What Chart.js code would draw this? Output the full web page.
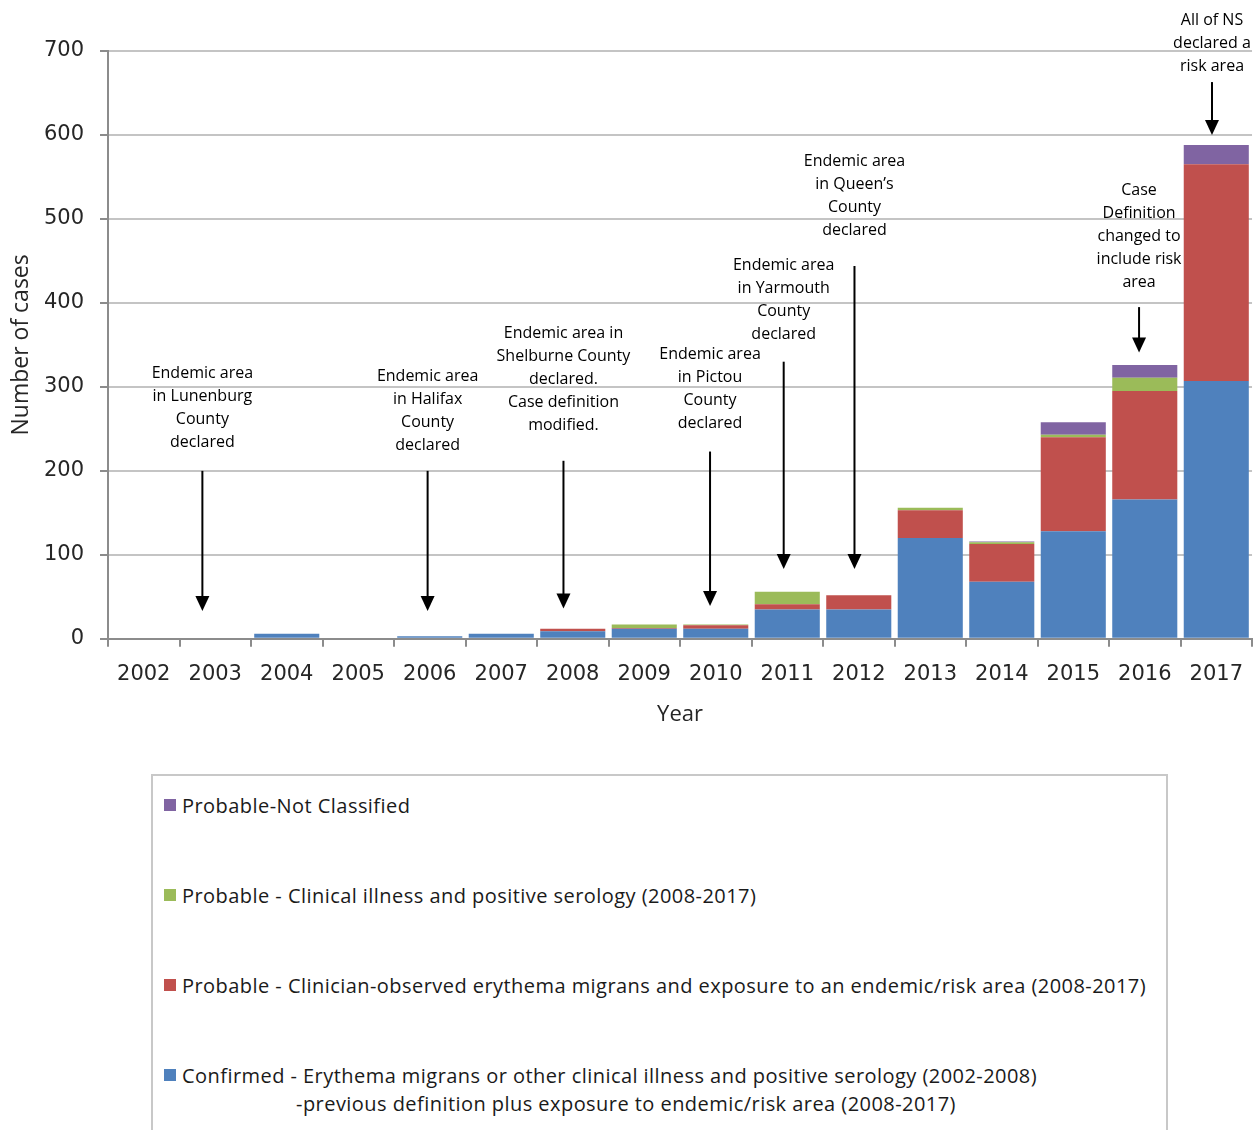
<!DOCTYPE html>
<html>
<head>
<meta charset="utf-8">
<script src="https://cdn.jsdelivr.net/npm/chart.js@4.4.1/dist/chart.umd.min.js"></script>
<style>
  body { margin: 0; background: #fff; }
  #wrap { position: relative; width: 1254px; height: 1130px; overflow: hidden; }
  #chart { position: absolute; left: 0; top: 0; }
  #legend {
    position: absolute; left: 151px; top: 774px; width: 1013px; height: 400px;
    border: 2px solid #c8c8c8; font-family: "Open Sans", sans-serif; font-size: 20px;
    letter-spacing: 0.45px; color: #1a1a1a;
  }
  .item { position: absolute; left: 11px; }
  .item .row { display: flex; align-items: center; height: 28px; white-space: nowrap; }
  .item .box { width: 12px; height: 12px; margin-right: 6px; flex: none; }
  .item .cont { padding-left: 132px; }
</style>
</head>
<body>
<div id="wrap">
  <canvas id="chart" width="1258" height="755"></canvas>
  <div id="legend"></div>
</div>
<script>
const years = ['2002', '2003', '2004', '2005', '2006', '2007', '2008', '2009', '2010', '2011', '2012', '2013', '2014', '2015', '2016', '2017'];
const confirmed = [0, 0, 6, 0, 3, 6, 9, 12, 12, 35, 35, 120, 68, 128, 166, 307];
const clinicianEM = [0, 0, 0, 0, 0, 0, 3, 1, 4, 6, 17, 33, 45, 112, 129, 258];
const serology = [0, 0, 0, 0, 0, 0, 0, 4, 1, 15, 0, 3, 2, 3, 16, 0];
const notClassified = [0, 0, 0, 0, 0, 0, 0, 0, 0, 0, 0, 0, 1, 15, 15, 23];

const seriesLabels = [
  'Confirmed - Erythema migrans or other clinical illness and positive serology (2002-2008)\n-previous definition plus exposure to endemic/risk area (2008-2017)',
  'Probable - Clinician-observed erythema migrans and exposure to an endemic/risk area (2008-2017)',
  'Probable - Clinical illness and positive serology (2008-2017)',
  'Probable-Not Classified'
];
const seriesColors = ['#4F81BD', '#C0504D', '#9BBB59', '#8064A2'];

// notes: at = category index (fractional), textY = value at first line, arrow from/to in values
const notes = [
  { at: 0.82, lines: ['Endemic area', 'in Lunenburg', 'County', 'declared'], textY: 316, from: 200, to: 33 },
  { at: 3.97, lines: ['Endemic area', 'in Halifax', 'County', 'declared'], textY: 312, from: 200, to: 33 },
  { at: 5.87, lines: ['Endemic area in', 'Shelburne County', 'declared.', 'Case definition', 'modified.'], textY: 364, from: 212, to: 36 },
  { at: 7.92, lines: ['Endemic area', 'in Pictou', 'County', 'declared'], textY: 339, from: 223, to: 39 },
  { at: 8.95, lines: ['Endemic area', 'in Yarmouth', 'County', 'declared'], textY: 445, from: 330, to: 83 },
  { at: 9.94, lines: ['Endemic area', 'in Queen\u2019s', 'County', 'declared'], textY: 568, from: 444, to: 83 },
  { at: 13.92, lines: ['Case', 'Definition', 'changed to', 'include risk', 'area'], textY: 534, from: 395, to: 341 },
  { at: 14.94, lines: ['All of NS', 'declared a', 'risk area'], textY: 736, from: 663, to: 600 }
];

const notePlugin = {
  id: 'notes',
  afterDatasetsDraw(chart) {
    const { ctx, scales: { x, y } } = chart;
    ctx.save();
    ctx.fillStyle = '#000';
    ctx.strokeStyle = '#000';
    ctx.lineWidth = 2;
    ctx.font = '16px "Open Sans"';
    ctx.textAlign = 'center';
    ctx.textBaseline = 'middle';
    notes.forEach(n => {
      const px = x.getPixelForValue(n.at);
      const ty = y.getPixelForValue(n.textY);
      n.lines.forEach((t, i) => ctx.fillText(t, px, ty + i * 23));
      const y1 = y.getPixelForValue(n.from);
      const y2 = y.getPixelForValue(n.to);
      ctx.beginPath();
      ctx.moveTo(px, y1);
      ctx.lineTo(px, y2 - 12);
      ctx.stroke();
      ctx.beginPath();
      ctx.moveTo(px - 7, y2 - 15);
      ctx.lineTo(px + 7, y2 - 15);
      ctx.lineTo(px, y2);
      ctx.closePath();
      ctx.fill();
    });
    ctx.restore();
  }
};

const datasets = [confirmed, clinicianEM, serology, notClassified].map((d, i) => ({
  label: seriesLabels[i],
  data: d,
  backgroundColor: seriesColors[i],
  borderWidth: 0,
  barPercentage: 0.91,
  categoryPercentage: 1.0
}));

const chart = new Chart(document.getElementById('chart'), {
  type: 'bar',
  data: { labels: years, datasets: datasets },
  plugins: [notePlugin],
  options: {
    responsive: false,
    animation: false,
    layout: { padding: { top: 51, right: 0, bottom: 0, left: 0 } },
    plugins: { legend: { display: false }, tooltip: { enabled: false } },
    scales: {
      x: {
        stacked: true,
        grid: { drawOnChartArea: false, drawTicks: true, tickLength: 8, color: '#8c8c8c', lineWidth: 2, offset: true },
        border: { color: '#8c8c8c', width: 2 },
        ticks: { color: '#262626', font: { family: 'DejaVu Sans', size: 21 }, padding: 15, maxRotation: 0, autoSkip: false },
        title: { display: true, text: 'Year', color: '#262626', font: { family: 'Open Sans', size: 22, lineHeight: 1 }, padding: { top: 2, bottom: 29 } }
      },
      y: {
        stacked: true,
        min: 0, max: 700,
        afterFit(scale) { scale.width = 108; },
        grid: { color: '#c4c4c4', lineWidth: 2, tickLength: 8, tickColor: '#8c8c8c' },
        border: { color: '#8c8c8c', width: 2 },
        ticks: { stepSize: 100, color: '#262626', font: { family: 'DejaVu Sans', size: 21 }, padding: 16 },
        title: { display: true, text: 'Number of cases', color: '#262626', font: { family: 'Open Sans', size: 23 }, padding: { top: 8, bottom: 0 } }
      }
    }
  }
});

// HTML legend built from the datasets, top-most series first
const legend = document.getElementById('legend');
chart.data.datasets.slice().reverse().forEach((ds, i) => {
  const item = document.createElement('div');
  item.className = 'item';
  item.style.top = (15 + i * 90) + 'px';
  ds.label.split('\n').forEach((line, j) => {
    const row = document.createElement('div');
    row.className = 'row' + (j > 0 ? ' cont' : '');
    if (j === 0) {
      const box = document.createElement('span');
      box.className = 'box';
      box.style.background = ds.backgroundColor;
      row.appendChild(box);
    }
    row.appendChild(document.createTextNode(line));
    item.appendChild(row);
  });
  legend.appendChild(item);
});
</script>
</body>
</html>
